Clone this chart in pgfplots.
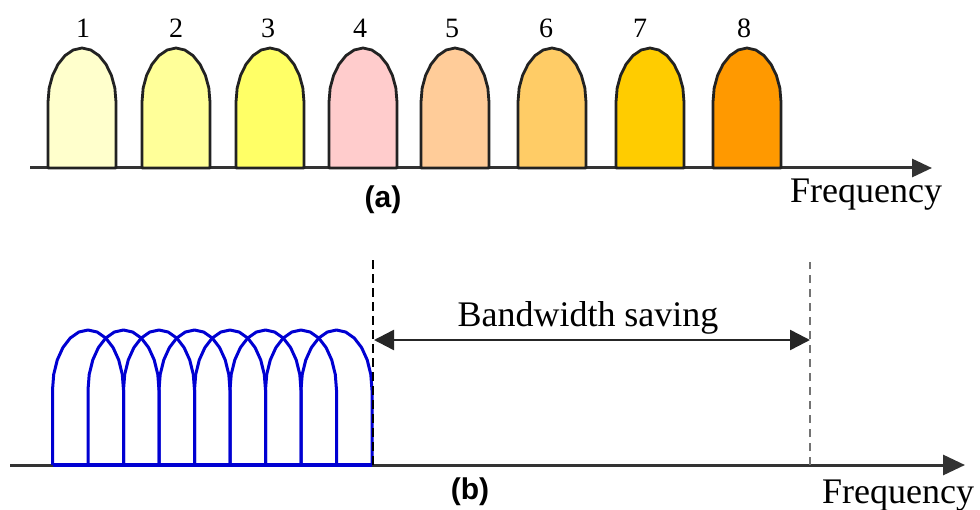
\documentclass[border=0pt]{standalone}
\usepackage{pgfplots}
\pgfplotsset{compat=1.18}
\usepackage{pgfplotstable}
\usepackage{fontspec}
\setmainfont{Liberation Serif}
\newfontfamily\labfont{Liberation Sans}
\usetikzlibrary{arrows.meta}

\definecolor{c1}{HTML}{FFFFCC}
\definecolor{c2}{HTML}{FFFF99}
\definecolor{c3}{HTML}{FFFF66}
\definecolor{c4}{HTML}{FFCCCC}
\definecolor{c5}{HTML}{FFCC99}
\definecolor{c6}{HTML}{FFCC66}
\definecolor{c7}{HTML}{FFCC00}
\definecolor{c8}{HTML}{FF9900}
\definecolor{arch}{RGB}{0,0,210}
\definecolor{edge}{HTML}{222222}

% one sub-channel shape (offsets from its centre on the base line)
\pgfplotstableread{
dx dy
-34 0
-34 66
-32.84 80.0
-29.44 92.5
-24.04 103.6
-17 112.4
-8.81 118.0
0 120
8.81 118.0
17 112.4
24.04 103.6
29.44 92.5
32.84 80.0
34 66
34 0
}\bump

% overlapping OFDM sub-carrier shape
\pgfplotstableread{
dx dy
-35.5 0
-35.5 75
-34.29 90.53
-30.74 105
-25.10 117.43
-17.75 126.96
-9.19 132.96
0 135
9.19 132.96
17.75 126.96
25.10 117.43
30.74 105
34.29 90.53
35.5 75
35.5 0
}\arc

\begin{document}
\begin{tikzpicture}
\useasboundingbox (0pt,0pt) rectangle (980pt,509pt);
\begin{axis}[
  at={(0pt,0pt)}, anchor=south west,
  width=980pt, height=509pt, scale only axis,
  xmin=0, xmax=980, ymin=0, ymax=509,
  axis lines=none, ticks=none, clip=false,
]
% ---------- (a) ----------
\addplot[draw=black!80, line width=3pt, -{Triangle[length=20pt,width=18pt]}] coordinates {(30,341) (932,341)};
\addplot[draw=edge, line width=2.8pt, line join=round, fill=c1] table[x expr=\thisrow{dx}+82,  y expr=\thisrow{dy}+341]{\bump} -- cycle;
\addplot[draw=edge, line width=2.8pt, line join=round, fill=c2] table[x expr=\thisrow{dx}+176, y expr=\thisrow{dy}+341]{\bump} -- cycle;
\addplot[draw=edge, line width=2.8pt, line join=round, fill=c3] table[x expr=\thisrow{dx}+270, y expr=\thisrow{dy}+341]{\bump} -- cycle;
\addplot[draw=edge, line width=2.8pt, line join=round, fill=c4] table[x expr=\thisrow{dx}+363, y expr=\thisrow{dy}+341]{\bump} -- cycle;
\addplot[draw=edge, line width=2.8pt, line join=round, fill=c5] table[x expr=\thisrow{dx}+455, y expr=\thisrow{dy}+341]{\bump} -- cycle;
\addplot[draw=edge, line width=2.8pt, line join=round, fill=c6] table[x expr=\thisrow{dx}+552, y expr=\thisrow{dy}+341]{\bump} -- cycle;
\addplot[draw=edge, line width=2.8pt, line join=round, fill=c7] table[x expr=\thisrow{dx}+650, y expr=\thisrow{dy}+341]{\bump} -- cycle;
\addplot[draw=edge, line width=2.8pt, line join=round, fill=c8] table[x expr=\thisrow{dx}+747, y expr=\thisrow{dy}+341]{\bump} -- cycle;

\node[anchor=base] at (axis cs:83,471)  {\fontsize{28}{30}\selectfont 1};
\node[anchor=base] at (axis cs:176,471) {\fontsize{28}{30}\selectfont 2};
\node[anchor=base] at (axis cs:268,471) {\fontsize{28}{30}\selectfont 3};
\node[anchor=base] at (axis cs:360,471) {\fontsize{28}{30}\selectfont 4};
\node[anchor=base] at (axis cs:452,471) {\fontsize{28}{30}\selectfont 5};
\node[anchor=base] at (axis cs:546,471) {\fontsize{28}{30}\selectfont 6};
\node[anchor=base] at (axis cs:640,471) {\fontsize{28}{30}\selectfont 7};
\node[anchor=base] at (axis cs:744,471) {\fontsize{28}{30}\selectfont 8};

\node[anchor=center, inner sep=0pt] at (axis cs:383,309) {\labfont\bfseries\fontsize{30}{34}\selectfont (a)};
\node[anchor=base west, inner sep=0pt] at (axis cs:790,306) {\fontsize{36}{40}\selectfont Frequency};

% ---------- (b) ----------
\addplot[draw=black!80, line width=3pt, -{Triangle[length=22pt,width=20pt]}] coordinates {(10,44) (965,44)};
\addplot[draw=arch, line width=3pt, line join=round] table[x expr=\thisrow{dx}+88,    y expr=\thisrow{dy}+44]{\arc};
\addplot[draw=arch, line width=3pt, line join=round] table[x expr=\thisrow{dx}+123.5, y expr=\thisrow{dy}+44]{\arc};
\addplot[draw=arch, line width=3pt, line join=round] table[x expr=\thisrow{dx}+159,   y expr=\thisrow{dy}+44]{\arc};
\addplot[draw=arch, line width=3pt, line join=round] table[x expr=\thisrow{dx}+194.5, y expr=\thisrow{dy}+44]{\arc};
\addplot[draw=arch, line width=3pt, line join=round] table[x expr=\thisrow{dx}+230,   y expr=\thisrow{dy}+44]{\arc};
\addplot[draw=arch, line width=3pt, line join=round] table[x expr=\thisrow{dx}+265.5, y expr=\thisrow{dy}+44]{\arc};
\addplot[draw=arch, line width=3pt, line join=round] table[x expr=\thisrow{dx}+301,   y expr=\thisrow{dy}+44]{\arc};
\addplot[draw=arch, line width=3pt, line join=round] table[x expr=\thisrow{dx}+336.5, y expr=\thisrow{dy}+44]{\arc};
\addplot[draw=arch, line width=3.2pt] coordinates {(52.5,44) (372,44)};

\addplot[draw=black, line width=2.6pt, dash pattern=on 9pt off 5pt] coordinates {(373,44) (373,252)};
\addplot[draw=black!55, line width=2pt, dash pattern=on 8pt off 6pt] coordinates {(810,44) (810,247)};
\addplot[draw=black!85, line width=2.5pt, {Triangle[length=20pt,width=20pt]}-{Triangle[length=20pt,width=20pt]}] coordinates {(374,169) (810,169)};

\node[anchor=base, inner sep=0pt] at (axis cs:588,182) {\fontsize{36}{40}\selectfont Bandwidth saving};
\node[anchor=center, inner sep=0pt] at (axis cs:470,17) {\labfont\bfseries\fontsize{30}{34}\selectfont (b)};
\node[anchor=base west, inner sep=0pt] at (axis cs:822,6) {\fontsize{36}{40}\selectfont Frequency};
\end{axis}
\end{tikzpicture}
\end{document}
